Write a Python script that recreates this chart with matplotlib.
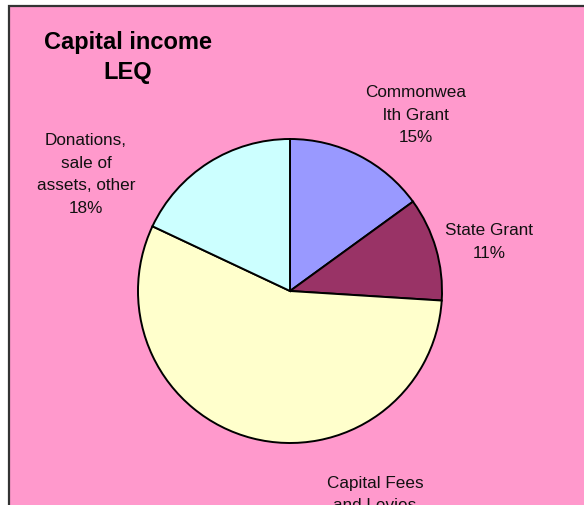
import matplotlib.pyplot as plt
from matplotlib.patches import Rectangle

plt.rcParams['font.family'] = ['Liberation Sans', 'DejaVu Sans']

# Data
categories = ['Commonwea\nlth Grant', 'State Grant', 'Capital Fees\nand Levies', 'Donations,\nsale of\nassets, other']
shares = [15, 11, 56, 18]
colors = ['#9999FF', '#993366', '#FFFFCC', '#CCFFFF']

# Label positions in pixel space (x, y from bottom)
label_pos = [(416, 391), (489, 264), (375, 0), (86, 331.5)]

W, H = 584, 506
fig = plt.figure(figsize=(W / 100, H / 100), dpi=100)
fig.patch.set_facecolor('white')
ax = fig.add_axes([0, 0, 1, 1])

# chart area background with border (cropped on right and bottom)
ax.add_patch(Rectangle((9, -50), W + 50, H - 7 + 50, facecolor='#FF99CC',
                       edgecolor='#333333', linewidth=1.6, zorder=0))

ax.pie(shares, colors=colors, startangle=90, counterclock=False,
       center=(290, H - 292), radius=152, frame=True,
       wedgeprops=dict(edgecolor='black', linewidth=1.4))
ax.set_xlim(0, W)
ax.set_ylim(0, H)
ax.axis('off')

for cat, val, (x, y) in zip(categories, shares, label_pos):
    ax.text(x, y, f'{cat}\n{val}%', ha='center', va='center', fontsize=12.3,
            color='#111111', linespacing=1.65, clip_on=False)

ax.text(128, H - 57.5, 'Capital income\nLEQ', ha='center', va='center',
        fontsize=17, fontweight='bold', linespacing=1.35)

fig.savefig('out.png', dpi=100)
